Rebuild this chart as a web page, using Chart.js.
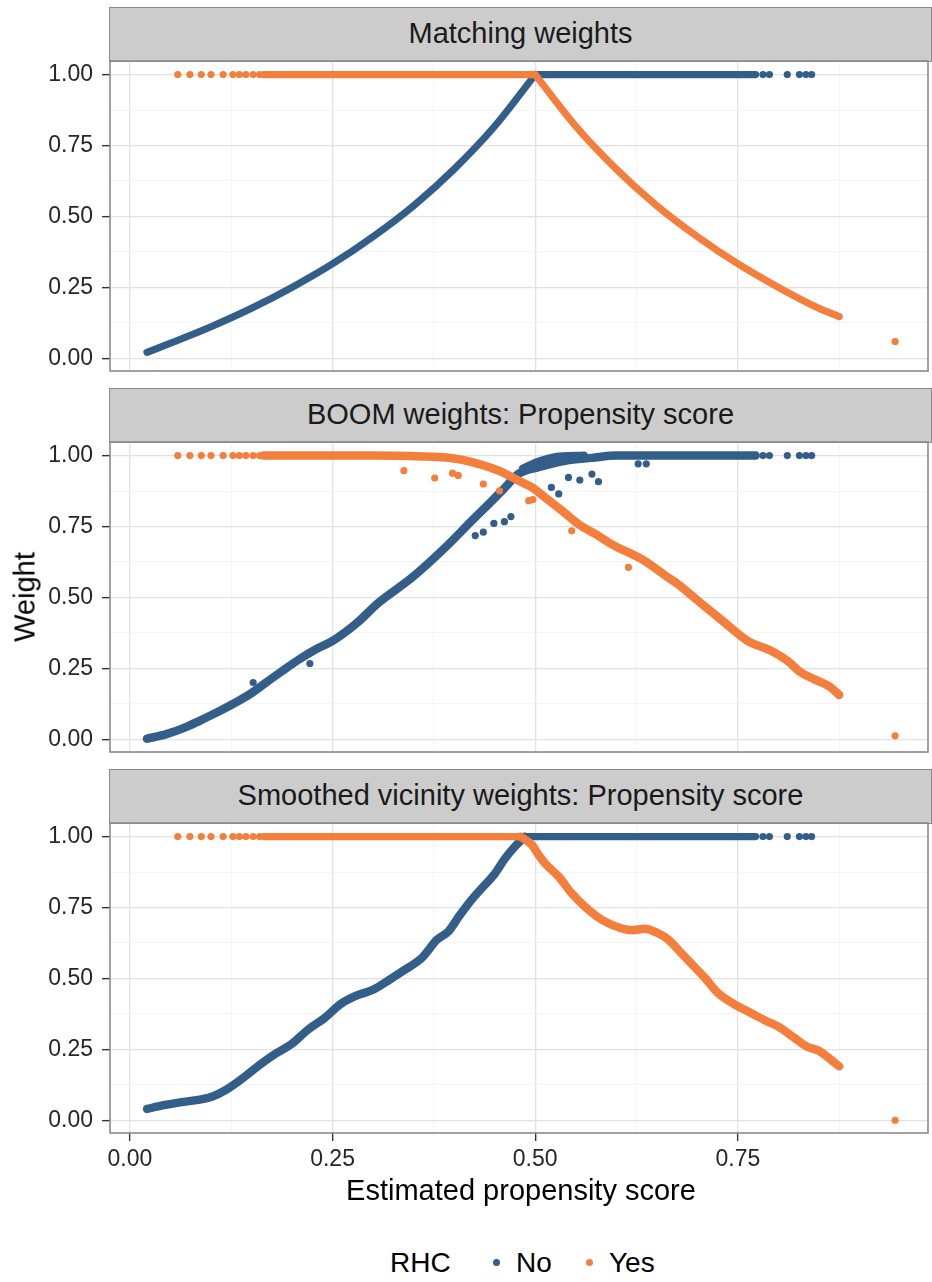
<!DOCTYPE html>
<html>
<head>
<meta charset="utf-8">
<script src="https://cdn.jsdelivr.net/npm/chart.js@4.4.1/dist/chart.umd.min.js"></script>
<style>
  html, body { margin: 0; padding: 0; background: #ffffff; }
  #wrap { position: relative; width: 932px; height: 1282px; overflow: hidden;
          font-family: "Liberation Sans", Arial, Helvetica, sans-serif; color: #1a1a1a; }
  canvas { position: absolute; left: 0; }
  .strip { position: absolute; left: 109px; width: 823px; height: 55px; box-sizing: border-box;
           background: #cccccc; border: 1.6px solid #8a8a8a; font-size: 29px; line-height: 51px;
           text-align: center; color: #1a1a1a; }
  .title { position: absolute; font-size: 29px; white-space: nowrap; color: #000; }
  .lg { position: absolute; font-size: 28px; line-height: 34px; top: 1246px; color: #000; }
  .lgdot { position: absolute; width: 7px; height: 7px; border-radius: 50%; top: 1259px; }
</style>
</head>
<body>
<div id="wrap">
  <div class="strip" style="top:7px">Matching weights</div>
  <div class="strip" style="top:388px">BOOM weights: Propensity score</div>
  <div class="strip" style="top:769px">Smoothed vicinity weights: Propensity score</div>
  <canvas id="p1" width="932" height="330" style="top:51px"></canvas>
  <canvas id="p2" width="932" height="330" style="top:432px"></canvas>
  <canvas id="p3" width="932" height="370" style="top:813px"></canvas>
  <div class="title" style="left:25px;top:597px;transform:translate(-50%,-50%) rotate(-90deg);">Weight</div>
  <div class="title" style="left:110px;width:822px;text-align:center;top:1173px;line-height:34px;">Estimated propensity score</div>
  <div class="lg" style="left:390px">RHC</div>
  <div class="lgdot" style="left:493px;background:#335e8a"></div>
  <div class="lg" style="left:516px">No</div>
  <div class="lgdot" style="left:586px;background:#f47f3c"></div>
  <div class="lg" style="left:609px">Yes</div>
</div>
<script>
// ---- axes ----
const X_MIN = -0.0246, X_MAX = 0.9846;
const Y_MIN = -0.045, Y_MAX = 1.048;
const xMajor = [0, 0.25, 0.5, 0.75];
const xLabels = ['0.00', '0.25', '0.50', '0.75'];
const xMinor = [0.125, 0.375, 0.625, 0.875];
const yMajor = [0, 0.25, 0.5, 0.75, 1];
const yLabels = ['0.00', '0.25', '0.50', '0.75', '1.00'];
const yMinor = [0.125, 0.375, 0.625, 0.875];

// ---- shared: units that keep full weight ----
const FULL = 1.0;
const trtLowPs = [0.059, 0.074, 0.088, 0.100, 0.115, 0.127, 0.135, 0.143, 0.152, 0.160];
const ctrlHighPs = [0.781, 0.789, 0.811, 0.826, 0.834, 0.841];
const trtFarPs = [0.944];

// ---- Matching weights ----
const matchCtrlPs = [0.021, 0.05, 0.10, 0.15, 0.20, 0.25, 0.30, 0.35, 0.40, 0.45, 0.50];
const matchCtrlW  = [0.021, 0.053, 0.111, 0.176, 0.250, 0.333, 0.429, 0.538, 0.667, 0.818, 1.00];
const matchCtrlFlat = [0.50, 0.772];
const matchTrtPs = [0.50, 0.55, 0.60, 0.65, 0.70, 0.75, 0.80, 0.85, 0.875];
const matchTrtW  = [1.00, 0.818, 0.667, 0.538, 0.429, 0.333, 0.250, 0.176, 0.147];
const matchTrtFlat = [0.165, 0.50];
const matchTrtFarW = [0.059];

// ---- BOOM weights ----
const boomCtrlPs = [0.021, 0.045, 0.066, 0.086, 0.107, 0.127, 0.148, 0.168, 0.188, 0.209, 0.230, 0.250, 0.280, 0.307, 0.348, 0.389, 0.422, 0.443, 0.463, 0.479, 0.504, 0.537, 0.570, 0.600, 0.772];
const boomCtrlW  = [0.002, 0.018, 0.039, 0.065, 0.094, 0.124, 0.159, 0.200, 0.241, 0.282, 0.318, 0.347, 0.410, 0.482, 0.570, 0.676, 0.771, 0.830, 0.888, 0.935, 0.959, 0.982, 0.992, 1.000, 1.000];
const boomCtrlUpperPs = [0.485, 0.505, 0.525, 0.560];
const boomCtrlUpperW  = [0.955, 0.980, 0.995, 1.000];
const boomCtrlOutPs = [0.152, 0.222, 0.426, 0.436, 0.449, 0.462, 0.470, 0.520, 0.529, 0.541, 0.555, 0.570, 0.578, 0.627, 0.637];
const boomCtrlOutW  = [0.200, 0.267, 0.718, 0.730, 0.761, 0.767, 0.785, 0.888, 0.865, 0.923, 0.914, 0.935, 0.908, 0.971, 0.971];
const boomTrtPs = [0.165, 0.300, 0.360, 0.390, 0.410, 0.430, 0.455, 0.479, 0.496, 0.512, 0.533, 0.553, 0.574, 0.594, 0.635, 0.664, 0.676, 0.700, 0.730, 0.762, 0.791, 0.811, 0.828, 0.844, 0.865, 0.875];
const boomTrtW  = [1.000, 1.000, 0.997, 0.993, 0.985, 0.971, 0.947, 0.912, 0.888, 0.853, 0.806, 0.759, 0.724, 0.688, 0.629, 0.570, 0.547, 0.490, 0.420, 0.347, 0.312, 0.277, 0.235, 0.212, 0.182, 0.156];
const boomTrtOutPs = [0.338, 0.376, 0.398, 0.405, 0.436, 0.456, 0.492, 0.497, 0.545, 0.615];
const boomTrtOutW  = [0.947, 0.921, 0.938, 0.930, 0.900, 0.876, 0.841, 0.845, 0.735, 0.606];
const boomTrtFarW = [0.012];

// ---- Smoothed vicinity weights ----
const svwCtrlPs = [0.021, 0.04, 0.06, 0.08, 0.10, 0.12, 0.14, 0.16, 0.18, 0.20, 0.22, 0.24, 0.26, 0.28, 0.30, 0.32, 0.34, 0.36, 0.379, 0.393, 0.406, 0.418, 0.434, 0.449, 0.463, 0.475, 0.483, 0.487];
const svwCtrlW  = [0.040, 0.052, 0.062, 0.070, 0.082, 0.110, 0.150, 0.195, 0.235, 0.270, 0.320, 0.360, 0.410, 0.440, 0.460, 0.495, 0.532, 0.572, 0.637, 0.666, 0.719, 0.765, 0.818, 0.865, 0.924, 0.965, 0.988, 1.000];
const svwCtrlFlat = [0.487, 0.772];
const svwTrtFlat = [0.165, 0.482];
const svwTrtPs = [0.482, 0.496, 0.504, 0.512, 0.529, 0.545, 0.561, 0.582, 0.606, 0.620, 0.635, 0.651, 0.664, 0.680, 0.695, 0.710, 0.725, 0.745, 0.765, 0.785, 0.800, 0.820, 0.835, 0.850, 0.862, 0.875];
const svwTrtW  = [1.000, 0.971, 0.936, 0.906, 0.859, 0.800, 0.754, 0.707, 0.677, 0.670, 0.675, 0.660, 0.637, 0.590, 0.545, 0.500, 0.450, 0.410, 0.380, 0.350, 0.330, 0.290, 0.260, 0.245, 0.220, 0.190];
const svwTrtFarW = [0.000];

// ---- colours ----
const BLUE = '#335e8a';
const ORANGE = '#f47f3c';
const DOT_R = 3.6;

const pts = (xs, ys) => xs.map((x, i) => ({ x: x, y: ys[i] }));
const atFull = xs => xs.map(x => ({ x: x, y: FULL }));

function curve(data, color, width, order) {
  return { data, showLine: true, borderColor: color, backgroundColor: color, borderWidth: width,
           pointRadius: 0, borderCapStyle: 'round', borderJoinStyle: 'round',
           cubicInterpolationMode: 'monotone', order };
}
function dots(data, color, order) {
  return { data, showLine: false, pointRadius: DOT_R, pointBorderWidth: 0,
           backgroundColor: color, borderColor: color, order };
}

const isIn = (arr, v) => arr.some(a => Math.abs(a - v) < 1e-9);

const panelBorder = {
  id: 'panelBorder',
  afterDraw(chart) {
    const { ctx, chartArea: a } = chart;
    ctx.save();
    ctx.strokeStyle = '#8a8a8a';
    ctx.lineWidth = 1.6;
    ctx.strokeRect(a.left, a.top, a.right - a.left, a.bottom - a.top);
    ctx.restore();
  }
};

const FONT = { family: '"Liberation Sans", Arial, Helvetica, sans-serif', size: 23 };
const gridColor = (major) => major ? '#e2e2e2' : '#f2f2f2';

function makePanel(id, datasets, showX) {
  return new Chart(document.getElementById(id), {
    type: 'scatter',
    data: { datasets },
    options: {
      responsive: false,
      animation: false,
      events: [],
      layout: { padding: { top: 10, bottom: showX ? 0 : 10, left: 0, right: 1 } },
      plugins: { legend: { display: false }, tooltip: { enabled: false } },
      scales: {
        x: {
          type: 'linear', min: X_MIN, max: X_MAX,
          afterBuildTicks: s => { s.ticks = xMajor.concat(xMinor).sort((a, b) => a - b).map(v => ({ value: v })); },
          afterFit: s => { s.height = showX ? 50 : 0; s.paddingLeft = 0; s.paddingRight = 0; },
          border: { display: false },
          grid: {
            drawTicks: showX, tickLength: 8, tickWidth: 1.4,
            color: c => gridColor(isIn(xMajor, c.tick.value)),
            lineWidth: c => isIn(xMajor, c.tick.value) ? 1.3 : 0.8,
            tickColor: c => isIn(xMajor, c.tick.value) ? '#333333' : 'rgba(0,0,0,0)'
          },
          ticks: {
            display: showX, autoSkip: false, maxRotation: 0, padding: 5, color: '#262626', font: FONT,
            callback: v => { const i = xMajor.findIndex(a => Math.abs(a - v) < 1e-9); return i >= 0 ? xLabels[i] : ''; }
          }
        },
        y: {
          type: 'linear', min: Y_MIN, max: Y_MAX,
          afterBuildTicks: s => { s.ticks = yMajor.concat(yMinor).sort((a, b) => a - b).map(v => ({ value: v })); },
          afterFit: s => { s.width = 110; s.paddingTop = 0; s.paddingBottom = 0; },
          border: { display: false },
          grid: {
            drawTicks: true, tickLength: 8, tickWidth: 1.4,
            color: c => gridColor(isIn(yMajor, c.tick.value)),
            lineWidth: c => isIn(yMajor, c.tick.value) ? 1.3 : 0.8,
            tickColor: c => isIn(yMajor, c.tick.value) ? '#333333' : 'rgba(0,0,0,0)'
          },
          ticks: {
            autoSkip: false, padding: 9, color: '#262626', font: FONT,
            callback: v => { const i = yMajor.findIndex(a => Math.abs(a - v) < 1e-9); return i >= 0 ? yLabels[i] : ''; }
          }
        }
      }
    },
    plugins: [panelBorder]
  });
}

const LW = 7.2;

// Matching weights
makePanel('p1', [
  dots(pts(trtFarPs, matchTrtFarW), ORANGE, 1),
  curve(pts(matchTrtPs, matchTrtW), ORANGE, LW, 2),
  curve(atFull(matchTrtFlat), ORANGE, LW, 3),
  dots(atFull(trtLowPs), ORANGE, 4),
  curve(pts(matchCtrlPs, matchCtrlW), BLUE, LW, 5),
  curve(atFull(matchCtrlFlat), BLUE, LW, 6),
  dots(atFull(ctrlHighPs), BLUE, 7)
], false);

// BOOM weights
makePanel('p2', [
  dots(pts(trtFarPs, boomTrtFarW), ORANGE, 1),
  dots(pts(boomTrtOutPs, boomTrtOutW), ORANGE, 2),
  curve(pts(boomTrtPs, boomTrtW), ORANGE, 8.5, 3),
  dots(atFull(trtLowPs), ORANGE, 4),
  dots(pts(boomCtrlOutPs, boomCtrlOutW), BLUE, 5),
  curve(pts(boomCtrlPs, boomCtrlW), BLUE, 8.5, 6),
  curve(pts(boomCtrlUpperPs, boomCtrlUpperW), BLUE, 8, 7),
  dots(atFull(ctrlHighPs), BLUE, 8)
], false);

// Smoothed vicinity weights
makePanel('p3', [
  dots(pts(trtFarPs, svwTrtFarW), ORANGE, 1),
  curve(pts(svwTrtPs, svwTrtW), ORANGE, 8.4, 2),
  curve(atFull(svwTrtFlat), ORANGE, LW, 3),
  dots(atFull(trtLowPs), ORANGE, 4),
  curve(pts(svwCtrlPs, svwCtrlW), BLUE, 8.4, 5),
  curve(atFull(svwCtrlFlat), BLUE, LW, 6),
  dots(atFull(ctrlHighPs), BLUE, 7)
], true);
</script>
</body>
</html>
